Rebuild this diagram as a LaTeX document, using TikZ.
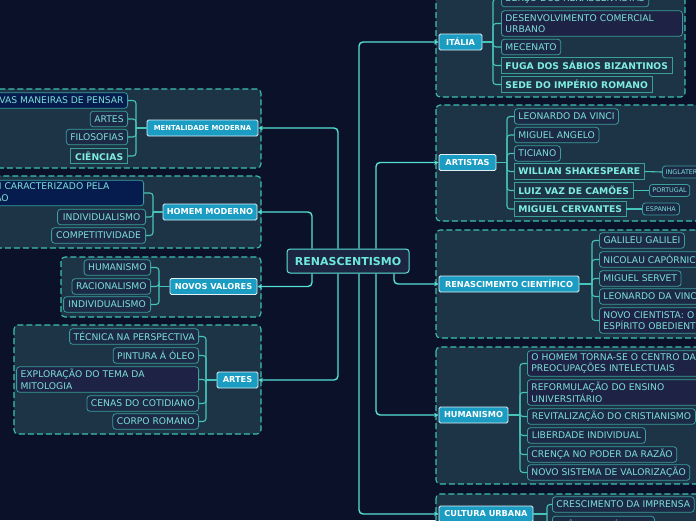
\documentclass[tikz,border=0pt]{standalone}
\usepackage{fontspec}
\setmainfont{DejaVu Sans}
\usetikzlibrary{arrows.meta}
\hyphenpenalty=10000
\exhyphenpenalty=10000
\definecolor{bg}{HTML}{0A1128}
\definecolor{panelfill}{HTML}{1D3446}
\definecolor{panelbd}{HTML}{3CC0B5}
\definecolor{subfill}{HTML}{1C2A46}
\definecolor{multifill}{HTML}{1E2345}
\definecolor{deepfill}{HTML}{061B4E}
\definecolor{subbd}{HTML}{3A9E99}
\definecolor{subtx}{HTML}{7DE0D8}
\definecolor{boldtx}{HTML}{80EDE3}
\definecolor{topfill}{HTML}{1B9CC2}
\definecolor{topbd}{HTML}{E0F0F5}
\definecolor{ctrfill}{HTML}{1C2642}
\definecolor{ctrbd}{HTML}{5EE3D8}
\definecolor{ctrtx}{HTML}{6FE8DC}
\definecolor{connc}{HTML}{56E0D5}
\definecolor{brkc}{HTML}{47C4BA}
\begin{document}
\begin{tikzpicture}[x=1pt,y=-1pt,
  panel/.style={draw=panelbd, fill=panelfill, dash pattern=on 6pt off 3pt, line width=1.1pt, rounded corners=4pt},
  sub/.style={draw=subbd, fill=subfill, text=subtx, rounded corners=3pt, line width=0.8pt, font=\fontsize{9.2}{11.5}\selectfont, inner xsep=4pt, inner ysep=0pt, minimum height=15.5pt},
  subE/.style={sub, anchor=east},
  subW/.style={sub, anchor=west},
  bsub/.style={rounded corners=0pt, fill=panelfill, font=\fontsize{9.2}{11.5}\selectfont\bfseries, text=boldtx},
  multi/.style={fill=multifill, text width=174pt, align=left, minimum height=25.5pt, inner ysep=1pt},
  topic/.style={draw=topbd, fill=topfill, text=white, line width=0.9pt, rounded corners=1.5pt, font=\fontsize{8.2}{10}\selectfont\bfseries, inner sep=0pt, minimum height=16pt},
  ctry/.style={sub, anchor=west, font=\fontsize{6.4}{8}\selectfont, minimum height=12pt, inner xsep=3pt},
  conn/.style={draw=connc, line width=1.4pt, rounded corners=4pt, -{Stealth[length=4.5pt,width=4.5pt]}},
  brk/.style={draw=brkc, line width=1.1pt},
  brkr/.style={brk, rounded corners=3pt}]
\useasboundingbox (0,0) rectangle (696,520);
\fill[bg] (0,0) rectangle (696,520);
% panels
\draw[panel] (-10,89) rectangle (261,168);
\draw[panel] (-10,176) rectangle (261,248);
\draw[panel] (61,257) rectangle (261,317);
\draw[panel] (14,325) rectangle (261,434);
\draw[panel] (436,-10) rectangle (685,97);
\draw[panel] (436,105) rectangle (710,221);
\draw[panel] (436,230) rectangle (710,338);
\draw[panel] (436,347) rectangle (710,484);
\draw[panel] (436,494) rectangle (710,540);
% central
\node[draw=ctrbd, fill=ctrfill, text=ctrtx, line width=1pt, rounded corners=3pt, font=\fontsize{11}{13}\selectfont\bfseries, minimum width=122pt, minimum height=24pt, inner sep=0pt] (c) at (348,261) {RENASCENTISMO};
% topics
\node[topic, minimum width=111pt, font=\fontsize{6.9}{8}\selectfont\bfseries] (mm) at (202.5,128) {MENTALIDADE MODERNA};
\node[topic, minimum width=94pt] (hm) at (210,212) {HOMEM MODERNO};
\node[topic, minimum width=87pt] (nv) at (213.5,286.5) {NOVOS VALORES};
\node[topic, minimum width=41pt] (ar) at (237.5,380) {ARTES};
\node[topic, minimum width=43pt] (it) at (460.5,42) {ITÁLIA};
\node[topic, minimum width=57pt] (at) at (467.5,162.5) {ARTISTAS};
\node[topic, minimum width=140pt] (rc) at (509,284) {RENASCIMENTO CIENTÍFICO};
\node[topic, minimum width=69pt] (hu) at (473.5,415) {HUMANISMO};
\node[topic, minimum width=94pt] (cu) at (486,514) {CULTURA URBANA};
% left children
\node[subE, fill=deepfill] (m1) at (128,100.5) {NOVAS MANEIRAS DE PENSAR};
\node[subE, minimum width=36pt] (m2) at (128,119) {ARTES};
\node[subE, minimum width=61pt] (m3) at (128,137) {FILOSOFIAS};
\node[subE, bsub, minimum width=57pt] (m4) at (128,156) {CIÊNCIAS};
\node[subE, multi, fill=deepfill] (h1) at (144,193) {HOMEM CARACTERIZADO PELA\\AMBIÇÃO};
\node[subE, minimum width=88pt] (h2) at (146,217) {INDIVIDUALISMO};
\node[subE, minimum width=94pt] (h3) at (146,235.5) {COMPETITIVIDADE};
\node[subE, minimum width=65pt] (n1) at (151,267.5) {HUMANISMO};
\node[subE, minimum width=78pt] (n2) at (151,286.5) {RACIONALISMO};
\node[subE, minimum width=87pt] (n3) at (151,304.5) {INDIVIDUALISMO};
\node[subE, minimum width=129pt] (a1) at (199,336.5) {TÉCNICA NA PERSPECTIVA};
\node[subE, minimum width=85pt] (a2) at (199,355.5) {PINTURA Á ÓLEO};
\node[subE, multi] (a3) at (199,379.5) {EXPLORAÇÃO DO TEMA DA\\MITOLOGIA};
\node[subE, minimum width=111pt] (a4) at (199,403.5) {CENAS DO COTIDIANO};
\node[subE, minimum width=83pt] (a5) at (199,421.5) {CORPO ROMANO};
% right children
\node[subW, minimum width=146pt] (i1) at (501,-1) {BERÇO DOS RENASCENTISTAS};
\node[subW, multi, text width=173pt] (i2) at (501,23.5) {DESENVOLVIMENTO COMERCIAL\\URBANO};
\node[subW, minimum width=56pt] (i3) at (501,47) {MECENATO};
\node[subW, bsub, minimum width=169pt] (i4) at (501,65.5) {FUGA DOS SÁBIOS BIZANTINOS};
\node[subW, bsub, minimum width=149pt] (i5) at (501,84.5) {SEDE DO IMPÉRIO ROMANO};
\node[subW, minimum width=104pt] (t1) at (514,116.5) {LEONARDO DA VINCI};
\node[subW, minimum width=83pt] (t2) at (514,135) {MIGUEL ANGELO};
\node[subW, minimum width=46pt] (t3) at (514,153.5) {TICIANO};
\node[subW, bsub, minimum width=129pt] (t4) at (514,171.5) {WILLIAN SHAKESPEARE};
\node[subW, bsub, minimum width=116pt] (t5) at (514,190.5) {LUIZ VAZ DE CAMÕES};
\node[subW, bsub, minimum width=109pt] (t6) at (514,209) {MIGUEL CERVANTES};
\node[ctry, minimum width=47pt] (k4) at (662,172) {INGLATERRA};
\node[ctry, minimum width=40pt] (k5) at (649,190.5) {PORTUGAL};
\node[ctry, minimum width=37pt] (k6) at (642,209) {ESPANHA};
\node[subW, minimum width=85pt] (r1) at (599,240.5) {GALILEU GALILEI};
\node[subW] (r2) at (599,259.5) {NICOLAU CAPÓRNICO};
\node[subW, minimum width=80pt] (r3) at (599,278.5) {MIGUEL SERVET};
\node[subW] (r4) at (599,296.5) {LEONARDO DA VINCI};
\node[subW, multi] (r5) at (599,320.5) {NOVO CIENTISTA: O\\ESPÍRITO OBEDIENTE};
\node[subW, multi] (u1) at (527,363.5) {O HOMEM TORNA-SE O CENTRO DAS\\PREOCUPAÇÕES INTELECTUAIS};
\node[subW, multi] (u2) at (527,392.5) {REFORMULAÇÃO DO ENSINO\\UNIVERSITÁRIO};
\node[subW, minimum width=168pt] (u3) at (527,416.5) {REVITALIZAÇÃO DO CRISTIANISMO};
\node[subW, minimum width=118pt] (u4) at (527,435.5) {LIBERDADE INDIVIDUAL};
\node[subW, minimum width=146pt] (u5) at (527,454.5) {CRENÇA NO PODER DA RAZÃO};
\node[subW, minimum width=162pt] (u6) at (527,472.5) {NOVO SISTEMA DE VALORIZAÇÃO};
\node[subW, minimum width=140pt] (c1) at (552,504.5) {CRESCIMENTO DA IMPRENSA};
\node[subW, minimum width=102pt] (c2) at (552,524) {CIÊNCIA E TÉCNICA};
% bracket x positions
\coordinate (bmm) at (136,0);
\coordinate (bhm) at (153,0);
\coordinate (bnv) at (159,0);
\coordinate (bar) at (206,0);
\coordinate (bit) at (493,0);
\coordinate (bat) at (507,0);
\coordinate (brc) at (592,0);
\coordinate (bhu) at (520,0);
\coordinate (bcu) at (547,0);
\draw[brk] (mm.west) -- (mm.west -| bmm);
\foreach \ch in {m1,m2,m3,m4} \draw[brkr] (mm.west -| bmm) |- (\ch.east);
\draw[brk] (hm.west) -- (hm.west -| bhm);
\foreach \ch in {h1,h2,h3} \draw[brkr] (hm.west -| bhm) |- (\ch.east);
\draw[brk] (nv.west) -- (nv.west -| bnv);
\foreach \ch in {n1,n2,n3} \draw[brkr] (nv.west -| bnv) |- (\ch.east);
\draw[brk] (ar.west) -- (ar.west -| bar);
\foreach \ch in {a1,a2,a3,a4,a5} \draw[brkr] (ar.west -| bar) |- (\ch.east);
\draw[brk] (it.east) -- (it.east -| bit);
\foreach \ch in {i1,i2,i3,i4,i5} \draw[brkr] (it.east -| bit) |- (\ch.west);
\draw[brk] (at.east) -- (at.east -| bat);
\foreach \ch in {t1,t2,t3,t4,t5,t6} \draw[brkr] (at.east -| bat) |- (\ch.west);
\draw[brk] (rc.east) -- (rc.east -| brc);
\foreach \ch in {r1,r2,r3,r4,r5} \draw[brkr] (rc.east -| brc) |- (\ch.west);
\draw[brk] (hu.east) -- (hu.east -| bhu);
\foreach \ch in {u1,u2,u3,u4,u5,u6} \draw[brkr] (hu.east -| bhu) |- (\ch.west);
\draw[brk] (cu.east) -- (cu.east -| bcu);
\foreach \ch in {c1,c2} \draw[brkr] (cu.east -| bcu) |- (\ch.west);
\draw[brk] (t4.east) -- (k4.west);
\draw[brk] (t5.east) -- (k5.west);
\draw[brk] (t6.east) -- (k6.west);
% main connectors
\coordinate (x312) at (312,0);
\coordinate (x338) at (338,0);
\coordinate (x359) at (359,0);
\coordinate (x376) at (376,0);
\coordinate (x394) at (394,0);
\draw[conn] (c.north -| x312) |- (hm.east);
\draw[conn] (c.north -| x338) |- (mm.east);
\draw[conn] (c.north -| x359) |- (it.west);
\draw[conn] (c.north -| x376) |- (at.west);
\draw[conn] (c.south -| x312) |- (nv.east);
\draw[conn] (c.south -| x338) |- (ar.east);
\draw[conn] (c.south -| x359) |- (cu.west);
\draw[conn] (c.south -| x376) |- (hu.west);
\draw[conn] (c.south -| x394) |- (rc.west);
\end{tikzpicture}
\end{document}
